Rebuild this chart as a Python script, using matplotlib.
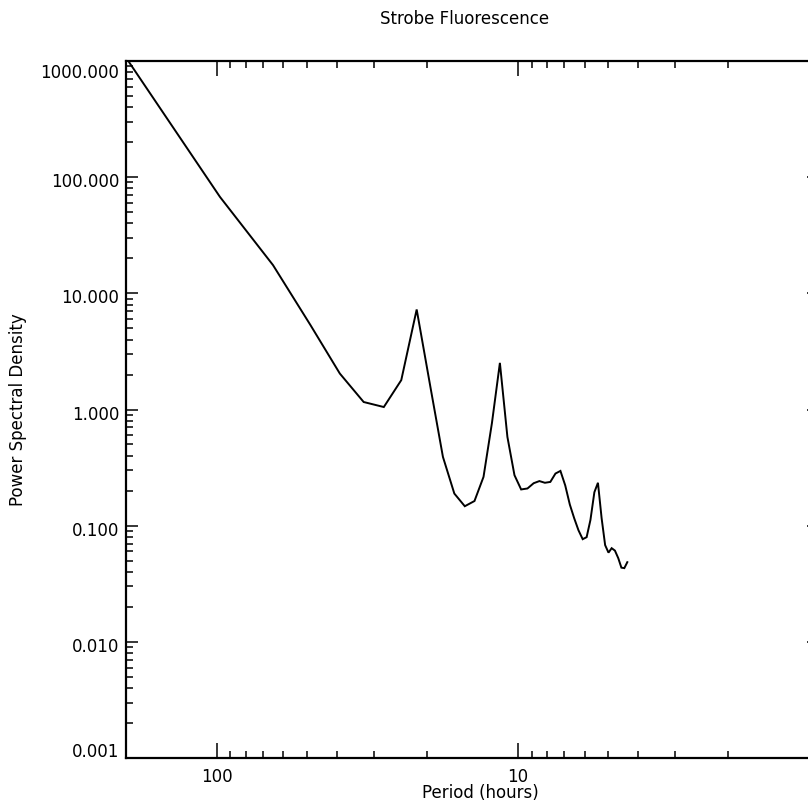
import matplotlib
matplotlib.use("Agg")
import matplotlib.pyplot as plt
from matplotlib.ticker import FixedLocator, NullFormatter, FixedFormatter
from matplotlib.transforms import ScaledTranslation

# Spectrum: period (hours) and power spectral density
period_hours = [195.0, 97.5, 65.0, 48.75, 39.0, 32.5, 27.86, 24.38, 21.67, 19.5,
                17.73, 16.25, 15.0, 13.93, 13.0, 12.19, 11.47, 10.83, 10.26, 9.75,
                9.29, 8.86, 8.48, 8.13, 7.8, 7.5, 7.22, 6.96, 6.72, 6.5,
                6.29, 6.09, 5.91, 5.74, 5.57, 5.42, 5.27, 5.13, 5.0, 4.88,
                4.76, 4.64, 4.53, 4.43, 4.33]
psd = [970.0, 67.6, 17.5, 5.3, 2.04, 1.16, 1.05, 1.79, 7.26, 1.55,
       0.391, 0.189, 0.147, 0.163, 0.263, 0.764, 2.52, 0.581, 0.272, 0.205,
       0.209, 0.232, 0.242, 0.234, 0.238, 0.281, 0.296, 0.222, 0.152, 0.116,
       0.0913, 0.0765, 0.0796, 0.112, 0.194, 0.234, 0.116, 0.068, 0.0586, 0.064,
       0.061, 0.0525, 0.0435, 0.0431, 0.0485]

x_major = [100, 10, 1]
x_major_labels = ["100", "10", ""]
x_minor = [90, 80, 70, 60, 50, 40, 30, 20, 9, 8, 7, 6, 5, 4, 3, 2]
y_major = [0.001, 0.01, 0.1, 1, 10, 100, 1000]
y_major_labels = ["0.001", "0.010", "0.100", "1.000", "10.000", "100.000", "1000.000"]
y_minor = [m * 10.0 ** e for e in range(-3, 3) for m in range(2, 10)]

plt.rcParams["font.family"] = ["DejaVu Sans"]

W, H = 808, 806
fig = plt.figure(figsize=(W / 100, H / 100), dpi=100)
ax = fig.add_axes([126 / W, 48 / H, 693 / W, 697 / H])

ax.plot(period_hours, psd, color="black", lw=1.4, solid_joinstyle="miter")

ax.set_xscale("log")
ax.set_yscale("log")
ax.set_xlim(200, 1)
ax.set_ylim(0.001, 1000)

ax.xaxis.set_major_locator(FixedLocator(x_major))
ax.xaxis.set_major_formatter(FixedFormatter(x_major_labels))
ax.xaxis.set_minor_locator(FixedLocator(x_minor))
ax.xaxis.set_minor_formatter(NullFormatter())
ax.yaxis.set_major_locator(FixedLocator(y_major))
ax.yaxis.set_major_formatter(FixedFormatter(y_major_labels))
ax.yaxis.set_minor_locator(FixedLocator(y_minor))
ax.yaxis.set_minor_formatter(NullFormatter())

for s in ax.spines.values():
    s.set_linewidth(1.6)

ax.tick_params(axis="x", which="major", direction="in", top=True, length=10.5,
               width=1.1, labelsize=12, pad=7)
ax.tick_params(axis="x", which="minor", direction="in", top=True, length=5,
               width=1.1)
ax.tick_params(axis="y", which="major", direction="in", right=True, length=8.6,
               width=1.1, labelsize=12, pad=5)
ax.tick_params(axis="y", which="minor", direction="in", right=True, length=5,
               width=1.1)

shift = ScaledTranslation(0, -3 / 100, fig.dpi_scale_trans)
ylabels = ax.get_yticklabels()
for lab in ylabels:
    lab.set_transform(lab.get_transform() + shift)
ylabels[0].set_va("bottom")
ylabels[-1].set_va("top")

fig.text(465 / W, 1 - 19 / H, "Strobe Fluorescence", ha="center", va="center",
         fontsize=12)
fig.text(480 / W, 1 - 793 / H, "Period (hours)", ha="center", va="center",
         fontsize=12)
fig.text(18 / W, 1 - 410 / H, "Power Spectral Density", ha="center", va="center",
         rotation=90, fontsize=12)

fig.savefig("out.png", dpi=100)
